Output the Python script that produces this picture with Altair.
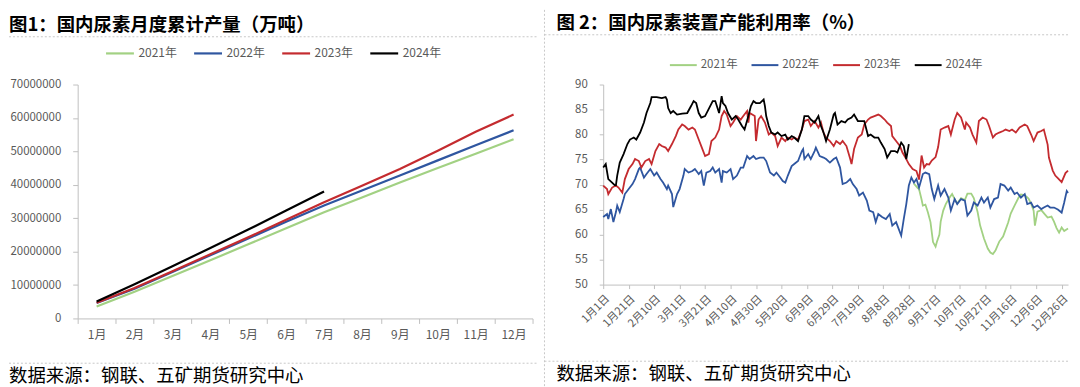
import altair as alt
import pandas as pd

FONT = "Noto Sans CJK SC"
TXT = "#595959"
AXC = "#BFBFBF"
SEPC = "#C8C8C8"

years = ["2021年", "2022年", "2023年", "2024年"]
line_colors = ["#A2D183", "#2F56A0", "#C42B2F", "#000000"]

# ---------- Figure 1: monthly cumulative output ----------
months = ["1月", "2月", "3月", "4月", "5月", "6月", "7月", "8月", "9月", "10月", "11月", "12月"]
cum_2021 = [3600000, 8000000, 12700000, 17400000, 22200000, 27000000, 31800000, 36200000, 40700000, 45000000, 49300000, 53600000]
cum_2022 = [4600000, 8900000, 13900000, 18900000, 23900000, 28900000, 33800000, 38300000, 42800000, 47300000, 51800000, 56300000]
cum_2023 = [4700000, 9100000, 14100000, 19200000, 24300000, 29500000, 34800000, 39700000, 44700000, 50200000, 55900000, 61000000]
cum_2024 = [5100000, 10200000, 15600000, 21100000, 26600000, 32300000, 38000000]
y1_ticks = [0, 10000000, 20000000, 30000000, 40000000, 50000000, 60000000, 70000000]

# ---------- Figure 2: capacity utilisation (day index from 1月1日) ----------
x2_ticks = [0, 20, 40, 60, 80, 100, 120, 140, 160, 180, 200, 220, 240, 260, 280, 300, 320, 340, 360]
x2_labels = ["1月1日", "1月21日", "2月10日", "3月1日", "3月21日", "4月10日", "4月30日", "5月20日", "6月9日",
             "6月29日", "7月19日", "8月8日", "8月28日", "9月17日", "10月7日", "10月27日", "11月16日", "12月6日", "12月26日"]
y2_ticks = [50, 55, 60, 65, 70, 75, 80, 85, 90]

days_2021 = [244, 247, 248, 250, 251, 253, 255, 257, 259, 261, 262, 264, 265, 267, 269, 272, 274, 276, 278, 281, 284, 286, 289, 291, 294, 296, 299, 302, 304, 306, 308, 311, 314, 315, 318, 320, 323, 326, 328, 331, 334, 336, 338, 339, 341, 344, 347, 349, 352, 354, 356, 358, 360, 362, 365]
util_2021 = [70.2, 69.3, 69.1, 67.0, 65.8, 66.0, 64.4, 62.5, 58.5, 57.6, 58.5, 60.0, 62.6, 64.8, 66.1, 67.4, 68.1, 67.1, 66.2, 67.3, 66.9, 68.2, 68.2, 67.3, 64.5, 61.8, 59.2, 57.2, 56.4, 56.1, 56.8, 58.6, 59.6, 60.3, 62.4, 64.2, 65.8, 67.3, 68.0, 67.9, 67.2, 66.2, 64.8, 61.8, 64.6, 64.9, 64.0, 63.4, 63.6, 62.6, 61.3, 60.4, 61.4, 60.7, 61.2]

days_2022 = [0, 3, 4, 6, 8, 10, 11, 13, 16, 17, 20, 23, 25, 28, 29, 32, 34, 37, 40, 42, 45, 47, 50, 51, 54, 55, 58, 60, 63, 64, 67, 70, 72, 75, 77, 79, 81, 84, 86, 88, 91, 93, 94, 97, 100, 102, 105, 108, 110, 113, 115, 118, 120, 123, 126, 128, 131, 134, 136, 139, 141, 143, 145, 148, 150, 153, 156, 157, 158, 161, 163, 166, 167, 170, 173, 175, 178, 181, 183, 186, 188, 191, 194, 196, 199, 201, 204, 207, 209, 212, 214, 216, 219, 222, 225, 227, 230, 234, 236, 238, 240, 242, 244, 246, 248, 251, 253, 256, 258, 260, 263, 265, 268, 271, 273, 276, 278, 281, 284, 286, 289, 291, 294, 297, 299, 302, 304, 307, 310, 312, 315, 318, 320, 323, 325, 328, 331, 333, 336, 338, 341, 344, 346, 349, 351, 354, 357, 360, 362, 364, 365]
util_2022 = [63.5, 64.1, 63.1, 65.1, 62.5, 64.5, 65.8, 64.5, 67.1, 68.1, 69.1, 70.1, 71.1, 73.1, 73.4, 71.4, 72.1, 73.1, 71.8, 72.4, 71.1, 70.4, 69.1, 69.8, 68.1, 65.5, 68.1, 69.1, 71.8, 73.1, 72.4, 72.7, 73.1, 72.1, 72.7, 69.8, 72.4, 72.7, 73.4, 72.4, 73.1, 70.4, 72.7, 72.4, 73.1, 71.1, 71.8, 73.4, 73.4, 75.7, 75.1, 75.7, 75.1, 75.4, 75.4, 74.7, 72.4, 71.8, 72.4, 71.4, 70.7, 70.4, 71.8, 73.7, 74.1, 74.7, 76.7, 77.1, 75.1, 76.1, 75.1, 76.7, 77.4, 75.7, 75.4, 75.1, 74.4, 75.1, 75.4, 73.4, 70.1, 70.4, 71.1, 70.1, 69.1, 67.8, 68.4, 66.8, 64.8, 64.5, 62.5, 64.1, 63.5, 63.1, 64.1, 61.8, 62.5, 59.8, 63.1, 66.1, 69.8, 71.4, 70.4, 71.1, 69.4, 72.1, 72.4, 72.1, 69.1, 67.1, 69.8, 67.8, 69.1, 67.4, 64.8, 67.1, 66.1, 67.1, 66.8, 63.8, 64.8, 66.4, 65.8, 67.4, 66.4, 67.4, 65.4, 67.1, 67.4, 70.1, 69.8, 68.8, 69.4, 68.1, 68.4, 67.4, 68.1, 66.1, 66.4, 65.4, 65.8, 65.1, 65.4, 65.8, 65.4, 65.4, 65.0, 64.4, 66.4, 68.7, 68.3]

days_2023 = [0, 3, 4, 7, 10, 12, 15, 17, 20, 23, 25, 28, 30, 33, 36, 38, 41, 44, 46, 49, 51, 54, 57, 59, 62, 64, 67, 70, 72, 75, 77, 80, 83, 85, 88, 91, 93, 95, 97, 100, 102, 105, 108, 110, 113, 114, 115, 119, 120, 122, 124, 127, 130, 132, 135, 137, 140, 143, 145, 148, 150, 153, 156, 158, 161, 163, 166, 169, 171, 173, 175, 178, 181, 183, 186, 188, 191, 194, 195, 197, 200, 203, 205, 208, 210, 213, 216, 218, 221, 223, 226, 227, 230, 233, 235, 238, 240, 243, 246, 248, 250, 252, 254, 256, 258, 261, 263, 265, 268, 271, 273, 276, 278, 281, 284, 285, 288, 290, 293, 295, 298, 301, 303, 306, 308, 311, 314, 316, 319, 321, 324, 327, 331, 333, 336, 338, 341, 344, 346, 349, 350, 353, 355, 357, 360, 363, 365]
util_2023 = [69.8, 69.1, 68.1, 69.4, 69.8, 69.4, 68.4, 71.1, 73.1, 74.1, 75.1, 74.7, 73.4, 74.7, 75.1, 74.1, 76.7, 78.1, 77.7, 77.4, 76.7, 78.1, 79.7, 81.0, 82.0, 81.7, 81.0, 81.4, 81.0, 79.0, 77.7, 75.7, 76.1, 78.7, 79.4, 81.0, 83.7, 84.7, 84.0, 81.7, 82.4, 83.7, 83.0, 83.7, 84.7, 82.4, 84.3, 83.7, 78.7, 83.0, 83.7, 82.4, 80.0, 80.4, 79.7, 77.7, 79.4, 78.7, 79.4, 79.0, 79.4, 79.0, 81.0, 82.7, 83.0, 81.7, 82.7, 81.4, 82.4, 80.4, 79.4, 78.7, 77.7, 78.7, 78.1, 78.7, 77.7, 75.1, 74.1, 77.1, 79.4, 80.0, 82.0, 83.0, 83.4, 83.7, 84.0, 83.7, 83.0, 82.4, 81.7, 79.7, 78.7, 77.7, 76.4, 75.1, 74.1, 73.1, 72.7, 71.0, 75.8, 73.4, 74.1, 74.0, 74.8, 75.5, 77.5, 81.0, 81.4, 81.7, 80.0, 83.0, 84.3, 83.4, 81.0, 82.4, 81.4, 80.0, 78.4, 82.7, 83.4, 83.0, 81.7, 79.4, 80.0, 80.4, 80.7, 81.0, 80.7, 81.0, 80.4, 81.4, 82.0, 81.7, 80.0, 78.7, 80.4, 80.7, 81.0, 78.0, 75.4, 72.8, 71.8, 71.3, 70.5, 72.3, 72.8]

days_2024 = [0, 2, 4, 7, 9, 10, 11, 13, 16, 19, 21, 24, 26, 29, 32, 34, 37, 38, 42, 46, 49, 50, 51, 53, 55, 58, 62, 66, 69, 71, 73, 75, 77, 80, 84, 86, 88, 91, 93, 94, 96, 98, 101, 104, 106, 109, 111, 114, 116, 118, 120, 123, 126, 127, 128, 130, 132, 135, 137, 140, 143, 145, 148, 150, 153, 156, 158, 161, 163, 166, 169, 171, 173, 175, 178, 181, 182, 184, 187, 190, 192, 195, 197, 200, 203, 205, 208, 210, 213, 216, 218, 221, 223, 226, 229, 231, 234, 236, 238, 240]
util_2024 = [73.4, 74.1, 71.1, 70.4, 69.9, 69.9, 71.8, 74.4, 76.1, 78.1, 79.0, 79.4, 79.0, 80.4, 82.4, 84.3, 86.3, 87.5, 87.5, 87.3, 87.5, 87.0, 85.3, 84.3, 84.7, 84.0, 84.2, 84.3, 85.7, 86.7, 86.3, 84.3, 83.4, 83.7, 85.7, 86.7, 86.7, 84.3, 87.7, 86.3, 85.7, 84.3, 83.0, 83.7, 83.0, 81.7, 81.0, 83.7, 85.7, 86.7, 86.3, 86.3, 87.0, 85.7, 83.7, 81.7, 80.4, 80.0, 80.4, 79.7, 80.0, 79.0, 79.7, 79.4, 78.7, 81.0, 83.7, 83.7, 83.0, 82.4, 83.7, 81.7, 80.4, 78.7, 81.0, 84.0, 84.3, 82.0, 82.7, 82.4, 83.0, 83.4, 84.0, 82.7, 82.7, 82.7, 79.7, 80.0, 79.4, 79.4, 78.4, 77.1, 75.4, 76.7, 76.7, 76.4, 78.4, 77.7, 75.1, 78.1]

# ---------- data frames ----------
rows1 = []
for yr, vals in zip(years, [cum_2021, cum_2022, cum_2023, cum_2024]):
    for m, v in zip(months, vals):
        rows1.append({"month": m, "year": yr, "value": v})
df1 = pd.DataFrame(rows1)

rows2 = []
for yr, ds, vs in zip(years, [days_2021, days_2022, days_2023, days_2024], [util_2021, util_2022, util_2023, util_2024]):
    for d, v in zip(ds, vs):
        rows2.append({"day": d, "year": yr, "value": v})
df2 = pd.DataFrame(rows2)

one = pd.DataFrame({"k": [0]})


def deco_text(txt, x, y, size, weight="normal"):
    return alt.Chart(one).mark_text(
        text=txt, align="left", baseline="alphabetic", font=FONT, fontSize=size,
        fontWeight=weight, color="#000000"
    ).encode(x=alt.value(x), y=alt.value(y))


def hline(x1, x2, y):
    return alt.Chart(one).mark_rule(color=SEPC, strokeWidth=1, strokeDash=[2, 2]).encode(
        x=alt.value(x1), x2=alt.value(x2), y=alt.value(y))


def vline(x, y1, y2, opacity=1):
    return alt.Chart(one).mark_rule(color=SEPC, strokeWidth=1, strokeDash=[2, 2], strokeOpacity=opacity).encode(
        x=alt.value(x), y=alt.value(y1), y2=alt.value(y2))


# ---------- left panel (plot origin at page ~ (77, 81)) ----------
L_W, L_H = 457, 235
color1 = alt.Color(
    "year:N", scale=alt.Scale(domain=years, range=line_colors),
    legend=alt.Legend(orient="none", legendX=27, legendY=-47, direction="horizontal", columns=4,
                      title=None, symbolType="stroke", symbolSize=784, symbolStrokeWidth=2.2,
                      labelFont=FONT, labelFontSize=12, labelColor=TXT, labelOffset=3,
                      columnPadding=12.5, padding=0))
x1 = alt.X("month:O", sort=months, bandPosition=0.5,
           scale=alt.Scale(type="band", domain=months, paddingInner=0, paddingOuter=0),
           axis=alt.Axis(title=None, tickBand="extent", labelAngle=0, labelFont=FONT, labelFontSize=12,
                         labelColor=TXT, labelPadding=6, tickSize=5, tickColor=AXC, domainColor=AXC,
                         grid=False))
y1 = alt.Y("value:Q", scale=alt.Scale(domain=[0, 70000000], nice=False, zero=True),
           axis=alt.Axis(title=None, values=y1_ticks, format="d", labelFont=FONT, labelFontSize=11.5,
                         labelColor=TXT, labelPadding=12, tickSize=5, tickColor=AXC, domainColor=AXC,
                         grid=False))
left_lines = [
    alt.Chart(df1).transform_filter(alt.datum.year == yr).mark_line(strokeWidth=2.2)
    .encode(x=x1, y=y1, color=color1)
    for yr in years
]
left = alt.layer(
    *left_lines,
    vline(-69, -73, -70, 0),
    deco_text("图1：国内尿素月度累计产量（万吨）", -69, -53.5, 18.5, "bold"),
    hline(-69, 463, -48),
    hline(-69, 463, 280),
    deco_text("数据来源：钢联、五矿期货研究中心", -69, 299, 18.5),
).properties(width=L_W, height=L_H)

# ---------- right panel (plot origin at page ~ (604, 83)) ----------
R_W, R_H = 467, 201
color2 = alt.Color(
    "year:N", scale=alt.Scale(domain=years, range=line_colors),
    legend=alt.Legend(orient="none", legendX=66, legendY=-34, direction="horizontal", columns=4,
                      title=None, symbolType="stroke", symbolSize=729, symbolStrokeWidth=2,
                      labelFont=FONT, labelFontSize=11.5, labelColor=TXT, labelOffset=3,
                      columnPadding=9, padding=0))
label_expr = "[" + ",".join("'%s'" % s for s in x2_labels) + "][round(datum.value / 20)]"
x2 = alt.X("day:Q", scale=alt.Scale(domain=[0, 365], nice=False, zero=False),
           axis=alt.Axis(title=None, values=x2_ticks, labelExpr=label_expr, labelAngle=-45,
                         labelOverlap=False, labelBound=False,
                         labelFont=FONT, labelFontSize=11, labelColor=TXT, labelPadding=4,
                         tickSize=4, tickColor=AXC, domainColor=AXC, grid=False))
y2 = alt.Y("value:Q", scale=alt.Scale(domain=[50, 90], nice=False, zero=False),
           axis=alt.Axis(title=None, values=y2_ticks, labelFont=FONT, labelFontSize=11.5,
                         labelColor=TXT, labelPadding=12, tickSize=4, tickColor=AXC, domainColor=AXC,
                         grid=False))
right_lines = [
    alt.Chart(df2).transform_filter(alt.datum.year == yr).mark_line(strokeWidth=1.8)
    .encode(x=x2, y=y2, color=color2)
    for yr in years
]
right = alt.layer(
    *right_lines,
    vline(-59, -75, 303),
    deco_text("图 2：国内尿素装置产能利用率（%）", -47, -55.5, 18.5, "bold"),
    hline(-59, 467, -50),
    hline(-59, 467, 278),
    deco_text("数据来源：钢联、五矿期货研究中心", -47, 297, 18.5),
).properties(width=R_W, height=R_H)

chart = (
    alt.hconcat(left, right, spacing=4)
    .resolve_scale(color="independent")
    .resolve_legend(color="independent")
    .configure_view(strokeWidth=0)
    .properties(padding=0, background="white")
)

chart.save("out.html", embed_options={"renderer": "svg", "actions": False})
